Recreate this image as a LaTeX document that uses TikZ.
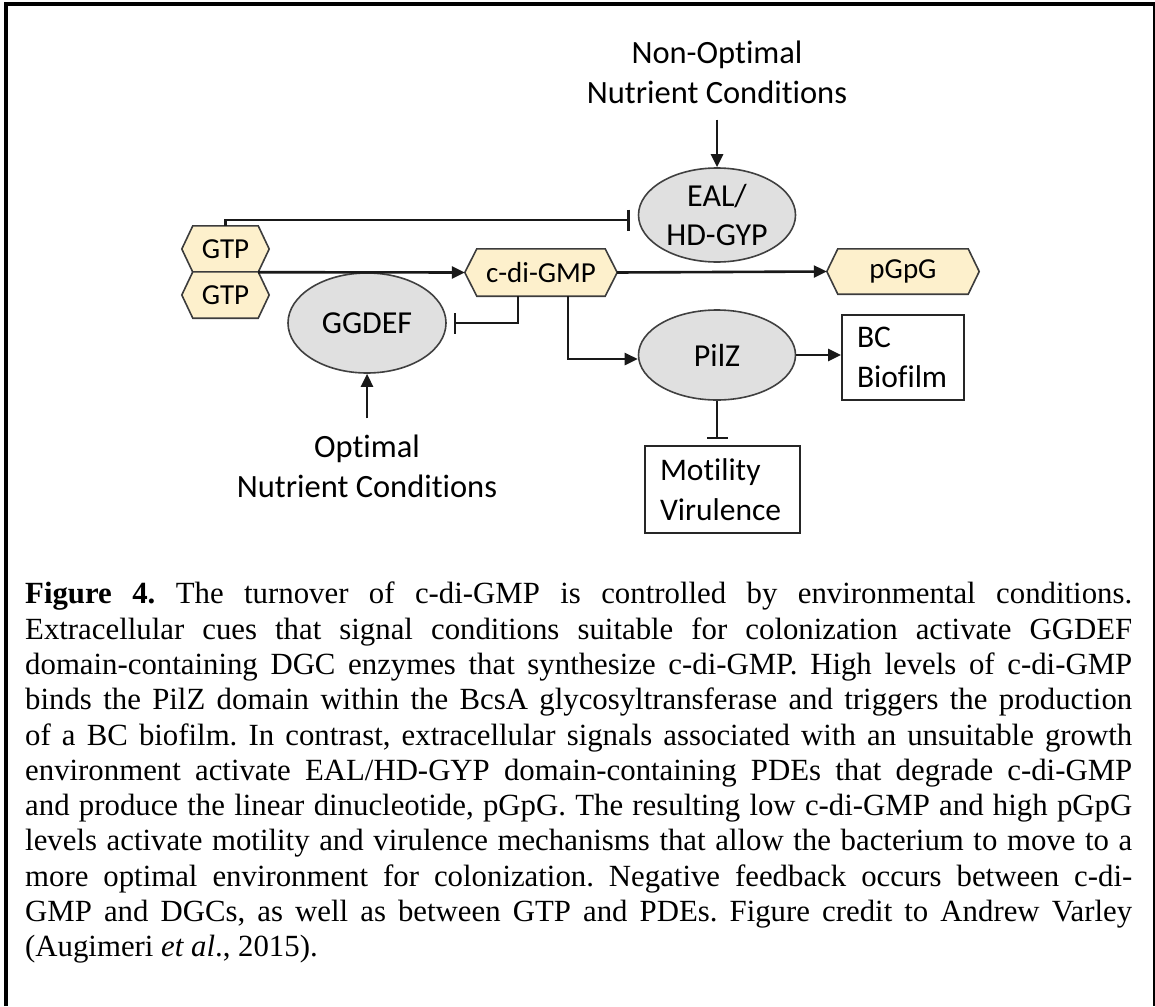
\documentclass[tikz,border=0pt]{standalone}
\usepackage{fontspec}
\setmainfont{Liberation Serif}
\newfontfamily\diafont[Ligatures={NoCommon}]{Carlito}
\usetikzlibrary{arrows.meta,backgrounds,calc,shapes.geometric}
\definecolor{hexfillc}{HTML}{FDF0CC}
\definecolor{hexdrawc}{HTML}{3C3C3C}
\definecolor{ellfillc}{HTML}{E0E0E0}
\definecolor{elldrawc}{HTML}{404040}
\tikzset{
  lbl/.style={font=\diafont\fontsize{32.5}{40}\selectfont, align=center, inner sep=0pt},
  hexnode/.style={font=\diafont\fontsize{29}{34}\selectfont, inner sep=0pt, minimum height=#1},
  hexnode/.default=46pt,
  hexpath/.style={fill=hexfillc, draw=hexdrawc, line width=1.6pt, line join=miter},
  enzyme/.style={ellipse, fill=ellfillc, draw=elldrawc, line width=1.6pt, inner sep=0pt,
    font=\diafont\fontsize{32}{39}\selectfont, align=center},
  outbox/.style={draw=black!85, line width=1.8pt, inner ysep=0pt, align=left,
    font=\diafont\fontsize{31.5}{39.5}\selectfont},
  conn/.style={line width=2.6pt, black!90},
  arr/.style={conn, -{Triangle[length=13pt,width=12pt]}},
  inh/.style={conn, -{Bar[width=21pt,line width=2.6pt]}},
}
\newcommand\hexa[2][11]{%
  \path[hexpath] (#2.west) -- ([xshift=#1pt]#2.north west) -- ([xshift=-#1pt]#2.north east)
    -- (#2.east) -- ([xshift=-#1pt]#2.south east) -- ([xshift=#1pt]#2.south west) -- cycle;}
\begin{document}
\begin{tikzpicture}[x=1pt,y=-1pt]
\useasboundingbox (0,0) rectangle (1155,1006);
% frame
\draw[line width=4pt] (6,1006) -- (6,4) -- (1155,4);
\draw[line width=2pt] (1153.5,4) -- (1153.5,1006);

% nodes
\node[lbl] (nonopt) at (717,72) {Non-Optimal\\Nutrient Conditions};
\node[enzyme, minimum width=157pt, minimum height=94pt] (eal) at (717,215) {EAL/\\HD-GYP};
\node[hexnode, minimum width=87pt] (gtp1) at (225.5,249) {GTP};
\node[hexnode, minimum width=87pt] (gtp2) at (225.5,295) {GTP};
\node[hexnode=47pt, minimum width=152pt] (cdg) at (541,272.5) {c-di-GMP};
\node[hexnode=45pt, minimum width=152pt] (pgpg) at (903,271.5) {pGpG};
\node[enzyme, minimum width=158pt, minimum height=100pt] (ggdef) at (367,323) {GGDEF};
\node[enzyme, minimum width=157pt, minimum height=90pt] (pilz) at (717,355) {PilZ};
\node[outbox, text width=92pt, inner xsep=15pt, minimum height=85pt] (bc) at (903,357.5) {BC\\Biofilm};
\node[outbox, text width=125pt, inner xsep=15pt, minimum height=87pt] (mot) at (722.5,489.5) {Motility\\Virulence};
\node[lbl] (opt) at (367,466) {Optimal\\Nutrient Conditions};

\begin{scope}[on background layer]
  \hexa{gtp1}\hexa{gtp2}\hexa[12]{cdg}\hexa{pgpg}
\end{scope}

% connectors
\draw[arr, shorten <=16pt] (nonopt.south) -- (eal.north);
\draw[inh, shorten >=8pt] (gtp1.north) |- (eal.west |- 0,220);
\draw[arr] ([xshift=-11pt]gtp1.south east) -- (cdg.west);
\draw[arr] (cdg.east) -- (pgpg.west);
\draw[inh, shorten >=7pt] ([xshift=-23pt]cdg.south) |- (ggdef.east);
\draw[arr] ([xshift=27pt]cdg.south) |- (pilz.west |- 0,359);
\draw[arr] (pilz.east) -- (bc.west |- pilz.east);
\draw[inh, shorten >=6pt] (pilz.south) -- (pilz.south |- mot.north);
\draw[arr, shorten <=16pt] (opt.north) -- (ggdef.south);

% caption
\node[anchor=north west, inner sep=0pt, text width=1107pt, align=justify,
  font=\fontsize{30.8}{35.3}\selectfont] (cap) at (25,582) {%
\tolerance=10000\hyphenpenalty=10000\parindent=0pt\frenchspacing
\textbf{Figure 4.} The turnover of c-di-GMP is controlled by environmental conditions.\linebreak
Extracellular cues that signal conditions suitable for colonization activate GGDEF\linebreak
domain-containing DGC enzymes that synthesize c-di-GMP. High levels of c-di-GMP\linebreak
binds the PilZ domain within the BcsA glycosyltransferase and triggers the production\linebreak
of a BC biofilm. In contrast, extracellular signals associated with an unsuitable growth\linebreak
environment activate EAL/HD-GYP domain-containing PDEs that degrade c-di-GMP\linebreak
and produce the linear dinucleotide, pGpG. The resulting low c-di-GMP and high pGpG\linebreak
levels activate motility and virulence mechanisms that allow the bacterium to move to a\linebreak
more optimal environment for colonization. Negative feedback occurs between c-di-\linebreak
GMP and DGCs, as well as between GTP and PDEs. Figure credit to Andrew Varley\linebreak
(Augimeri \textit{et al}., 2015).};
\end{tikzpicture}
\end{document}
